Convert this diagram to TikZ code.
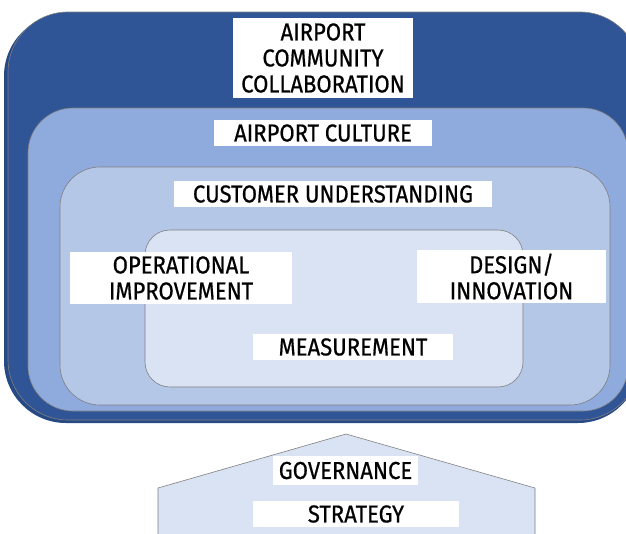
\documentclass[tikz,border=0pt]{standalone}
\usepackage{fontspec}
\setmainfont{Fira Sans}[FakeStretch=0.9,FakeBold=0.6]
\definecolor{ringA}{HTML}{2F5597}
\definecolor{ringAshade}{HTML}{264A85}
\definecolor{ringB}{HTML}{8FAADC}
\definecolor{ringC}{HTML}{B4C7E7}
\definecolor{ringD}{HTML}{DAE3F3}
\definecolor{edge}{HTML}{7F7F7F}
\begin{document}
\begin{tikzpicture}[x=1pt,y=-1pt,
  ring/.style={draw=edge,line width=0.6pt},
  tag/.style={fill=white,inner sep=0pt,align=center,font=\fontsize{24.5}{26}\selectfont,text=black}]
\useasboundingbox (0,0) rectangle (626,533);
\clip (0,0) rectangle (626,533);
\fill[white] (0,0) rectangle (626,533);
% nested rounded layers
\fill[ringAshade,rounded corners=62pt] (4,14) rectangle (640,423);
\draw[ring,fill=ringA,rounded corners=60pt] (8,12) rectangle (640,420);
\draw[ring,fill=ringB,rounded corners=45pt] (28,108) rectangle (628,411);
\draw[ring,fill=ringC,rounded corners=40pt] (60,167) rectangle (610,405);
\draw[ring,fill=ringD,rounded corners=25pt] (145,230) rectangle (523,387);
% house-shaped base
\draw[ring,fill=ringD] (158,540) -- (158,488) -- (346,434) -- (535,488) -- (535,540);
% labels
\node[tag,minimum width=180pt,minimum height=80pt] (acc) at (323,58) {AIRPORT\\COMMUNITY\\COLLABORATION};
\node[tag,minimum width=218pt,minimum height=26pt] (cult) at (323,133) {AIRPORT CULTURE};
\node[tag,minimum width=318pt,minimum height=26pt] (cust) at (333,194) {CUSTOMER UNDERSTANDING};
\node[tag,minimum width=222pt,minimum height=52pt] (oper) at (181,278) {OPERATIONAL\\IMPROVEMENT};
\node[tag,minimum width=189pt,minimum height=53pt] (desi) at (511.5,276.5) {DESIGN/\\INNOVATION};
\node[tag,minimum width=200pt,minimum height=26pt] (meas) at (353,347) {MEASUREMENT};
\node[tag,minimum width=145pt,minimum height=29pt] (gove) at (345.5,470.5) {GOVERNANCE};
\node[tag,minimum width=206pt,minimum height=26pt] (stra) at (356,514) {STRATEGY};
\end{tikzpicture}
\end{document}
